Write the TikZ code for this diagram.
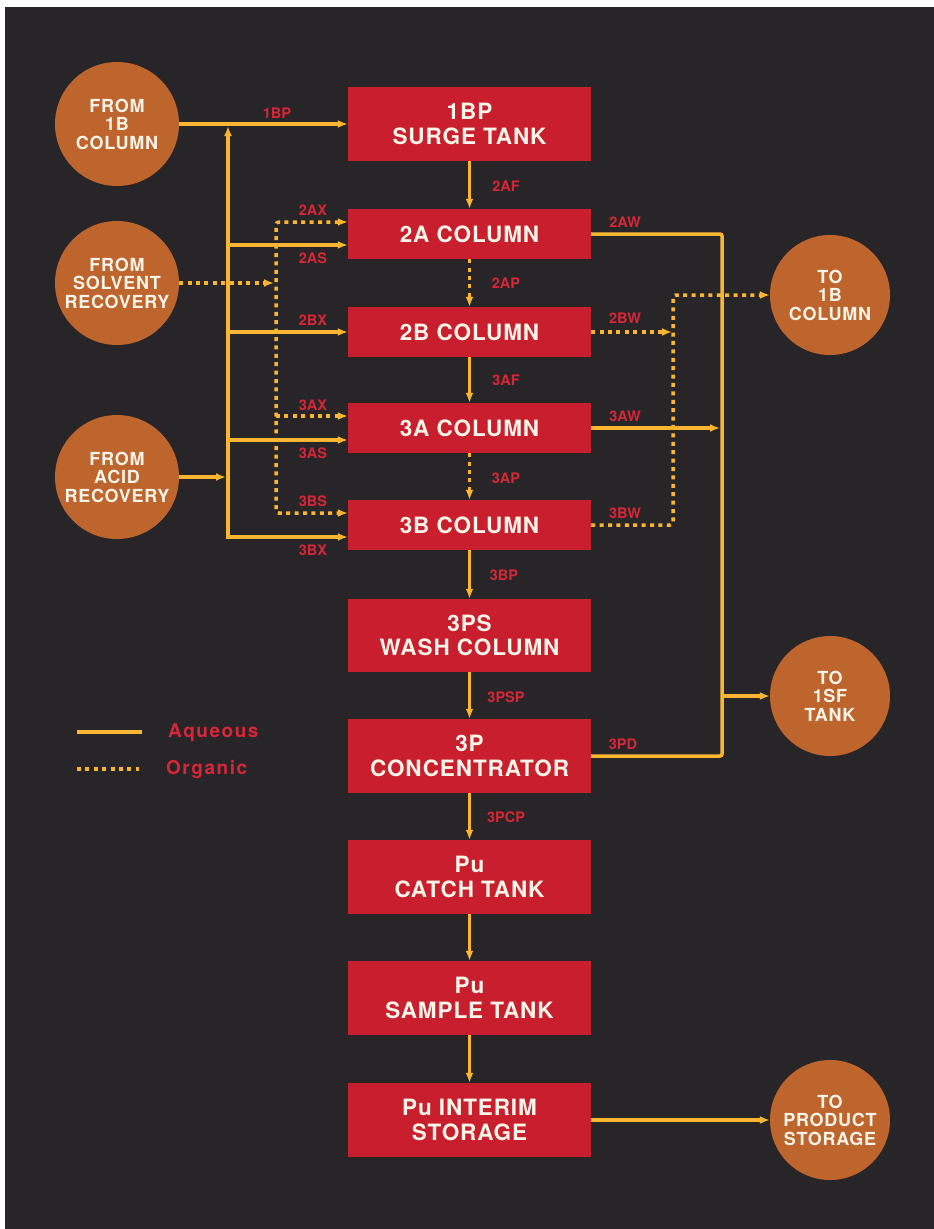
\documentclass[tikz,border=0pt]{standalone}
\usepackage{fontspec}
\setmainfont{TeX Gyre Heros}
\newfontfamily\boxfont[LetterSpace=4]{TeX Gyre Heros}
\newfontfamily\legfont[LetterSpace=8]{TeX Gyre Heros}
\usetikzlibrary{arrows.meta,calc}

\definecolor{bg}{RGB}{40,37,40}
\definecolor{boxred}{RGB}{200,30,45}
\definecolor{disc}{RGB}{190,100,45}
\definecolor{flow}{RGB}{250,182,50}
\definecolor{tagred}{RGB}{215,38,55}
\definecolor{ink}{RGB}{248,244,232}

\tikzset{
  unit/.style={fill=boxred, minimum width=243pt, text=ink, inner sep=0pt,
    align=center, font=\boxfont\bfseries\fontsize{22.5}{24.5}\selectfont},
  tallunit/.style={unit, minimum height=74pt},
  shortunit/.style={unit, minimum height=50pt},
  source/.style={circle, fill=disc, minimum size=124pt, inner sep=0pt,
    text=ink, align=center, font=\boxfont\bfseries\fontsize{18}{18.5}\selectfont},
  sink/.style={source, minimum size=120pt},
  aq/.style={draw=flow, line width=3.5pt},
  org/.style={draw=flow, line width=3.5pt, dash pattern=on 4pt off 4.4pt},
  tip/.style={-{Latex[length=10pt,width=8pt]}},
  tips/.style={{Latex[length=10pt,width=8pt]}-{Latex[length=10pt,width=8pt]}},
  flowlabel/.style={text=tagred, inner sep=0pt, font=\bfseries\fontsize{14.5}{14.5}\selectfont},
  legendtext/.style={text=tagred, inner sep=0pt, anchor=west, font=\legfont\bfseries\fontsize{19}{19}\selectfont}
}

\begin{document}
\begin{tikzpicture}[x=1pt,y=-1pt]
  % page and dark panel
  \useasboundingbox (0,0) rectangle (934,1229);
  \fill[white] (0,0) rectangle (934,1229);
  \fill[bg] (5,7) rectangle (934,1229);

  % process units
  \node[tallunit]  (b1)      at (469.5,124)  {1BP\\SURGE TANK};
  \node[shortunit] (b2a)     at (469.5,234)  {2A COLUMN};
  \node[shortunit] (b2b)     at (469.5,332)  {2B COLUMN};
  \node[shortunit] (b3a)     at (469.5,428)  {3A COLUMN};
  \node[shortunit] (b3b)     at (469.5,525)  {3B COLUMN};
  \node[unit, minimum height=73pt] (wash) at (469.5,635.5) {3PS\\WASH COLUMN};
  \node[tallunit]  (conc)    at (469.5,756)  {3P\\CONCENTRATOR};
  \node[tallunit]  (catch)   at (469.5,877)  {Pu\\CATCH TANK};
  \node[tallunit]  (sample)  at (469.5,998)  {Pu\\SAMPLE TANK};
  \node[tallunit]  (interim) at (469.5,1120) {Pu INTERIM\\STORAGE};

  % sources and destinations
  \node[source] (src1) at (117,124) {FROM\\1B\\COLUMN};
  \node[source] (src2) at (117,283) {FROM\\SOLVENT\\RECOVERY};
  \node[source] (src3) at (117,477) {FROM\\ACID\\RECOVERY};
  \node[sink]   (snk1) at (830,295)  {TO\\1B\\COLUMN};
  \node[sink]   (snk2) at (830,696)  {TO\\1SF\\TANK};
  \node[sink]   (snk3) at (830,1120) {TO\\PRODUCT\\STORAGE};

  % feed points on the column sides
  \coordinate (in2AX) at ([yshift=12pt]b2a.west);
  \coordinate (in2AS) at ([yshift=-11pt]b2a.west);
  \coordinate (in2BX) at (b2b.west);
  \coordinate (in3AX) at ([yshift=12pt]b3a.west);
  \coordinate (in3AS) at ([yshift=-12pt]b3a.west);
  \coordinate (in3BS) at ([yshift=12pt]b3b.west);
  \coordinate (in3BX) at ([yshift=-12pt]b3b.west);
  \coordinate (aqL)  at (228,126);
  \coordinate (orgL) at (276,222);
  \coordinate (aqR)  at (722,233);
  \coordinate (orgR) at (673,295);

  % 1BP feed
  \draw[aq,tip] (src1.east) -- (b1.west);

  % aqueous header on the left
  \draw[aq,tips] (aqL) -- (aqL |- in3BX) -- (in3BX);
  \draw[aq,tip] (aqL |- in2AS) -- (in2AS);
  \draw[aq,tip] (aqL |- in2BX) -- (in2BX);
  \draw[aq,tip] (aqL |- in3AS) -- (in3AS);
  \draw[aq,tip,shorten >=2pt] (src3.east) -- (aqL |- src3.east);

  % organic header on the left
  \draw[org,tips,rounded corners=3pt] (in2AX) -- (orgL |- in2AX) -- (orgL |- in3BS) -- (in3BS);
  \draw[org,tip] (orgL |- in3AX) -- (in3AX);
  \draw[org,tip,shorten >=2pt] (src2.east) -- (orgL |- src2.east);

  % aqueous waste header on the right
  \draw[aq,rounded corners=2pt] (b2a.east) -| (aqR |- conc.east) -- (conc.east);
  \draw[aq,tip,shorten >=2pt] (b3a.east) -- (aqR |- b3a.east);
  \draw[aq,tip] (aqR |- snk2.west) -- (snk2.west);

  % organic return on the right
  \draw[org,tip,shorten >=1pt] (b2b.east) -- (orgR |- b2b.east);
  \draw[org,tip,rounded corners=3pt] (b3b.east) -| (orgR) -- (snk1.west);

  % main product line
  \draw[aq,tip]  (b1.south)     -- (b2a.north);
  \draw[org,tip] (b2a.south)    -- (b2b.north);
  \draw[aq,tip]  (b2b.south)    -- (b3a.north);
  \draw[org,tip] (b3a.south)    -- (b3b.north);
  \draw[aq,tip]  (b3b.south)    -- (wash.north);
  \draw[aq,tip]  (wash.south)   -- (conc.north);
  \draw[aq,tip]  (conc.south)   -- (catch.north);
  \draw[aq,tip]  (catch.south)  -- (sample.north);
  \draw[aq,tip]  (sample.south) -- (interim.north);
  \draw[aq,tip]  (interim.east) -- (snk3.west);

  % stream labels
  \node[flowlabel] (t1BP) at (277,113) {1BP};
  \node[flowlabel] (t2AX) at (313,210) {2AX};
  \node[flowlabel] (t2AS) at (313,258) {2AS};
  \node[flowlabel] (t2BX) at (313,320) {2BX};
  \node[flowlabel] (t3AX) at (313,405) {3AX};
  \node[flowlabel] (t3AS) at (313,453) {3AS};
  \node[flowlabel] (t3BS) at (313,501) {3BS};
  \node[flowlabel] (t3BX) at (313,550) {3BX};
  \node[flowlabel] (t2AF) at (506,186) {2AF};
  \node[flowlabel] (t2AP) at (506,283) {2AP};
  \node[flowlabel] (t3AF) at (506,380) {3AF};
  \node[flowlabel] (t3AP) at (506,478) {3AP};
  \node[flowlabel] (t3BP) at (504,575) {3BP};
  \node[flowlabel] (t3PSP) at (506,697) {3PSP};
  \node[flowlabel] (t3PCP) at (506,817) {3PCP};
  \node[flowlabel] (t2AW) at (625,222) {2AW};
  \node[flowlabel] (t2BW) at (625,318) {2BW};
  \node[flowlabel] (t3AW) at (625,416) {3AW};
  \node[flowlabel] (t3BW) at (625,513) {3BW};
  \node[flowlabel] (t3PD) at (623,744) {3PD};

  % legend
  \coordinate (legA1) at (77,732);
  \coordinate (legA2) at (142,732);
  \coordinate (legO1) at (77,769);
  \coordinate (legO2) at (139,769);
  \draw[aq] (legA1) -- (legA2);
  \draw[org] (legO1) -- (legO2);
  \node[legendtext] (legAq) at (168,733) {Aqueous};
  \node[legendtext] (legOr) at (166,769) {Organic};
\end{tikzpicture}
\end{document}
